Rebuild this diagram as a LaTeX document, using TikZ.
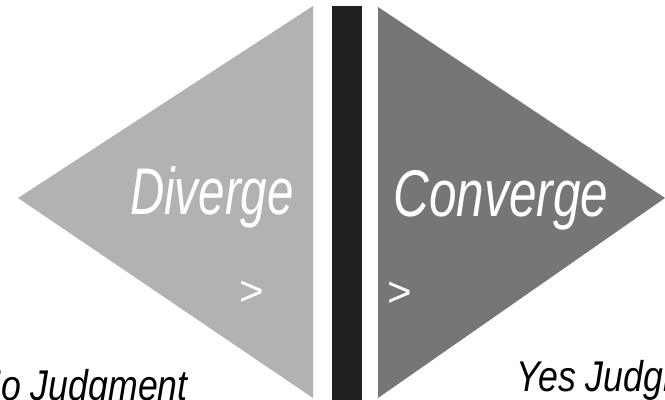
\documentclass[tikz,border=0pt]{standalone}
\usepackage{fontspec}
\setmainfont{Liberation Sans}
\usepackage{graphicx}
\usepackage{xcolor}
\definecolor{lightwedge}{RGB}{178,178,178}
\definecolor{darkwedge}{RGB}{118,118,118}
\definecolor{barblack}{RGB}{32,32,32}

\begin{document}
\begin{tikzpicture}[
    x=0.5pt, y=-0.5pt,
    diverge/.style={fill=lightwedge, draw=none},
    converge/.style={fill=darkwedge, draw=none},
    divider/.style={fill=barblack, draw=none},
    phase/.style={inner sep=0pt, anchor=base, text=white, font=\fontsize{33}{33}\selectfont\itshape},
    caret/.style={inner sep=0pt, text=white, font=\fontsize{21}{21}\selectfont},
    judge/.style={inner sep=0pt, anchor=base west, text=black, font=\fontsize{21.5}{21.5}\selectfont\itshape},
]
    \clip (0,0) rectangle (665,400);

    % Wedges and divider
    \fill[diverge] (18,198) -- (313,6) -- (313,398) -- cycle;
    \fill[divider] (332,6) rectangle (362,400);
    \fill[converge] (378,7) -- (665,198) -- (378,398) -- cycle;

    % Phase labels
    \node[phase] (div) at (212,215) {\scalebox{0.72}[1]{Diverge}};
    \node[phase] (conv) at (501,217) {\scalebox{0.75}[1]{Converge}};
    \node[caret] (divcaret) at (252,293) {>};
    \node[caret] (convcaret) at (400,294) {>};

    % Judgment labels
    \node[judge] (nojudge) at (-25,401) {\scalebox{0.83}[1]{No Judgment}};
    \node[judge] (yesjudge) at (516,392) {\scalebox{0.83}[1]{Yes Judgment}};
\end{tikzpicture}
\end{document}
